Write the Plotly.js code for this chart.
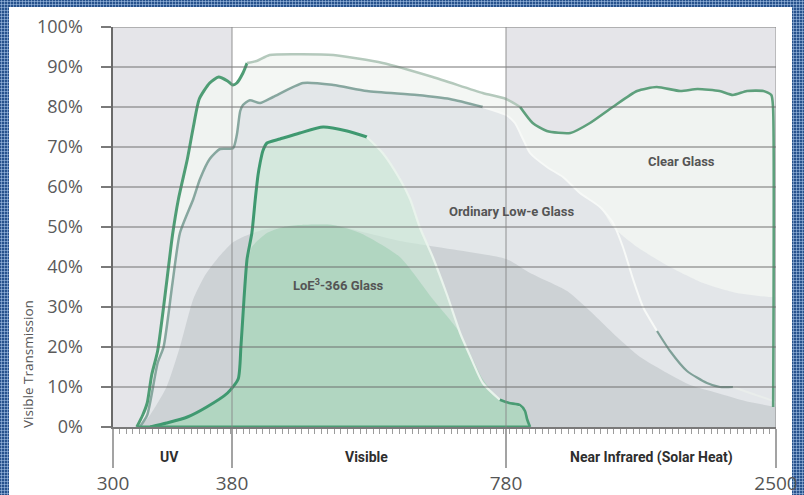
<!DOCTYPE html>
<html><head><meta charset="utf-8">
<script src="https://cdn.plot.ly/plotly-3.0.1.min.js"></script>
<style>
html,body{margin:0;padding:0;background:#fff;}
#frame{position:relative;width:804px;height:495px;background-color:#27528d;background-image:radial-gradient(circle,#90afd6 0.9px,transparent 1.2px);background-size:3px 3px;overflow:hidden;}
#white{position:absolute;left:9px;top:7px;width:783px;height:488px;background:#fff;}
#chart{position:absolute;left:0;top:0;width:804px;height:495px;}
</style></head><body>
<div id="frame"><div id="white"></div><div id="chart"></div></div>
<script>
// ---- axis scale: wavelength (nm) bands and their relative display widths
const bandEdgesNm = [300, 380, 780, 2500];
const bandWidths = [119, 274, 270];
const tickLabels = ['300', '380', '780', '2500'];
const yTickVals = [0,10,20,30,40,50,60,70,80,90,100];
const yTickText = ['0%','10%','20%','30%','40%','50%','60%','70%','80%','90%','100%'];

// ---- Clear Glass transmission
const clearNm  = [316,320,323,326,330,336,340,344,350,354,358,365,371,377,381,387,396,402,416,435,479,528,600,673,746,780,870,950,1040,1190,1315,1460,1615,1740,1890,2000,2140,2225,2315,2420,2470,2481,2482];
const clearPct = [0,3,6,13,19,36,48,57,67,75,82,86,87.5,86.5,85.5,86,88.5,91,91.5,93,93.2,93,91,87.5,83.5,82,80,76,74,73.5,76,80,84,85,84,84.5,84,83,84,84,83,80,5];

// ---- Ordinary Low-e Glass transmission
const loweNm  = [318,323,330,334,340,345,354,358.5,365,372,381.5,387,392,396,406,421,440,484,528,577,650,698,746,780,837,888,933,1041,1143,1251,1379,1462,1525,1589,1653,1742,1825,1933,2060,2143,2226,2334,2481,2500];
const lowePct = [0,3,16,20,36,48.5,57,62,67,69.5,69.7,73,79,80.5,81.7,81,82.5,86,85.5,84,83,82,80,78,76,72,68.5,65,62.5,58.5,55,51,45,37,30,24,19,14,11,10,10,8.5,6.5,6];

// ---- LoE3-366 Glass transmission
const loeNm  = [325,336,350,363,377,389,393,397.5,402,409,414,418,421,425,431,450,479,513,548,577,600,625,640,654,673,694,713,727,746,771,800,869,901,914,933];
const loePct = [0,1,2.5,5,8.5,12,20,32,42,48.5,57,63,66,69,71,72,73.5,75,74,72.5,68.5,62,57,50,42.5,33,23.5,18,11,6.8,6,5.5,4,2,0];

// ---- light grey haze band (upper envelope)
const hazeNm  = [318,323,330,334,340,345,354,358.5,365,372,381.5,387,392,396,406,421,440,484,528,577,650,698,746,780,837,888,933,1041,1143,1251,1379,1462,1615,1825,2035,2250,2460,2500];
const hazePct = [0,3,16,20,36,48.5,57,62,67,69.5,69.7,73,79,80.5,81.7,81,82.5,86,85.5,84,83,82,80,78,76,72,68.5,65,62.5,58.5,55,50,45,40,36,33.5,32.5,32.5];

// ---- grey bell (solar spectrum)
const solarNm  = [318,325,336,345,354,362,370,380,396,425,455,527.5,577,625,698,780,933,1169,1315,1487,1634,1806,1953,2125,2303,2500];
const solarPct = [0,3,10,20,32,38,42,46,47.5,49.3,50,50.5,48.5,46.5,44.5,42,38.5,34,29,22.5,17.5,13.5,10.5,8.5,6.5,5];

// ---- green bell (visible light transmitted by LoE3-366)
const visNm  = [325,336,350,363,377,389,393,397.5,402,409,431,455,479,527,567,625,673,713,746,771,800,869,914,933];
const visPct = [0,1,2.5,5,8.5,12,20,32,40,45,48.5,50,50.5,50.5,48.5,42.5,32,23.5,12,6.8,6,5,3,0];

// ---- region labels
const regionNames = ['UV', 'Visible', 'Near Infrared (Solar Heat)'];
const regionNm = [338, 577, 1710];

function toAxis(nm){
  let acc = 0;
  for (let i = 0; i < bandWidths.length; i++){
    const a = bandEdgesNm[i], b = bandEdgesNm[i+1];
    if (nm <= b || i === bandWidths.length-1){
      return acc + (nm - a) / (b - a) * bandWidths[i];
    }
    acc += bandWidths[i];
  }
}
const xMax = bandWidths.reduce((s,v)=>s+v,0);
const ax = arr => arr.map(toAxis);

function fillTrace(nm, pct, color){
  return {x: ax(nm), y: pct, type:'scatter', mode:'lines', line:{width:0, shape:'spline', smoothing:0.6},
          fill:'tozeroy', fillcolor: color, hoverinfo:'skip', showlegend:false};
}
function lineSeg(nm, pct, lo, hi, color, w){
  const xs=[], ys=[];
  nm.forEach((v,i)=>{ if(v>=lo && v<=hi){ xs.push(toAxis(v)); ys.push(pct[i]); } });
  return {x: xs, y: ys, type:'scatter', mode:'lines', line:{color, width:w, shape:'spline', smoothing:0.6},
          hoverinfo:'skip', showlegend:false, cliponaxis:false};
}

const traces = [
  fillTrace(clearNm, clearPct, 'rgba(242,246,242,0.84)'),
  fillTrace(hazeNm, hazePct, 'rgba(223,227,230,0.82)'),
  fillTrace(solarNm, solarPct, 'rgba(184,189,193,0.5)'),
  fillTrace(loeNm, loePct, 'rgba(202,233,213,0.6)'),
  fillTrace(visNm, visPct, 'rgba(172,212,190,0.86)'),
  // Low-e line
  lineSeg(loweNm, lowePct, 0, 746, '#87a79f', 2.5),
  lineSeg(loweNm, lowePct, 746, 1742, '#f7f9f7', 2),
  lineSeg(loweNm, lowePct, 1742, 2226, '#7fa098', 2.2),
  lineSeg(loweNm, lowePct, 2226, 2500, '#e9edeb', 2),
  // Clear glass line
  lineSeg(clearNm, clearPct, 0, 402, '#4f9d75', 3),
  lineSeg(clearNm, clearPct, 402, 870, '#b4c9bc', 2.5),
  lineSeg(clearNm, clearPct, 870, 2500, '#5ea07c', 2.6),
  // LoE line
  lineSeg(loeNm, loePct, 0, 577, '#3f9970', 3),
  lineSeg(loeNm, loePct, 577, 771, '#e9f3ec', 2.2),
  lineSeg(loeNm, loePct, 771, 933, '#4a9c74', 2.6),
  {x: ax([clearNm[0], loeNm[loeNm.length-1]]), y:[0,0], type:'scatter', mode:'lines',
   line:{color:'#4a9c74', width:3}, hoverinfo:'skip', showlegend:false, cliponaxis:false}
];

const shapes = [];
// shaded UV and NIR bands
[[0,1],[2,3]].forEach(([i,j])=>{
  shapes.push({type:'rect', xref:'x', yref:'y', x0: toAxis(bandEdgesNm[i]), x1: toAxis(bandEdgesNm[j]), y0:0, y1:100,
               fillcolor:'#e5e5e9', line:{width:0}, layer:'below'});
});
// horizontal grid above fills
yTickVals.slice(1).forEach(v=>{
  shapes.push({type:'line', xref:'paper', yref:'y', x0:0, x1:1, y0:v, y1:v,
               line:{color: v===100 ? 'rgba(140,140,140,0.8)' : 'rgba(105,105,105,0.62)', width:1.6}, layer:'above'});
});
// band boundary verticals
bandEdgesNm.slice(1).forEach(v=>{
  shapes.push({type:'line', xref:'x', yref:'y', x0:toAxis(v), x1:toAxis(v), y0:0, y1:100,
               line:{color:'rgba(135,135,135,0.6)', width:1.5}, layer:'above'});
});

const annotations = [
  {text:'Clear Glass', x: toAxis(1895), y: 66.3},
  {text:'Ordinary Low-e Glass', x: toAxis(812), y: 54},
  {text:'LoE<sup>3</sup>-366 Glass', x: toAxis(535), y: 35.5}
].map(a=>Object.assign({xref:'x', yref:'y', showarrow:false, xanchor:'center', yanchor:'middle',
   font:{family:'Roboto, sans-serif', size:13, color:'#555555', weight:'bold'}}, a));

regionNames.forEach((t,i)=>{
  annotations.push({text:t, x: toAxis(regionNm[i]), y: -0.075, xref:'x', yref:'paper', showarrow:false,
    xanchor:'center', yanchor:'middle', font:{family:'Roboto, sans-serif', size:14, color:'#2e2e2e', weight:'bold'}});
});
annotations.push({text:'Visible Transmission', xref:'paper', yref:'paper', x:-0.128, y:0.158, textangle:-90,
  showarrow:false, xanchor:'center', yanchor:'middle', font:{family:'Open Sans, sans-serif', size:13.5, color:'#555'}});

const layout = {
  width:804, height:495,
  margin:{l:113, r:28, t:27, b:68},
  paper_bgcolor:'rgba(0,0,0,0)', plot_bgcolor:'#ffffff',
  showlegend:false, hovermode:false,
  xaxis:{range:[0, xMax], tickmode:'array', tickvals: bandEdgesNm.map(toAxis), ticktext: tickLabels,
         showgrid:false, zeroline:false, showline:true, linecolor:'#7a7a7a', linewidth:1.6,
         ticks:'outside', ticklen:39, tickwidth:1.5, tickcolor:'#a3a3a3',
         tickfont:{family:'Open Sans, sans-serif', size:19, color:'#555'},
         minor:{tickmode:'linear', tick0:0, dtick:6.5, ticks:'outside', ticklen:5, tickwidth:1, tickcolor:'#9c9c9c', showgrid:false},
         fixedrange:true},
  yaxis:{range:[0,100], tickmode:'array', tickvals:yTickVals, ticktext:yTickText,
         showgrid:false, zeroline:false, showline:true, linecolor:'#6a6a6a', linewidth:1.6,
         ticks:'outside', ticklen:10, tickwidth:1.6, tickcolor:'#7a7a7a', ticklabelstandoff:15,
         tickfont:{family:'Open Sans, sans-serif', size:18, color:'#5a5a5a'}, fixedrange:true},
  shapes, annotations
};

Plotly.newPlot('chart', traces, layout, {displayModeBar:false, staticPlot:true});
</script></body></html>
